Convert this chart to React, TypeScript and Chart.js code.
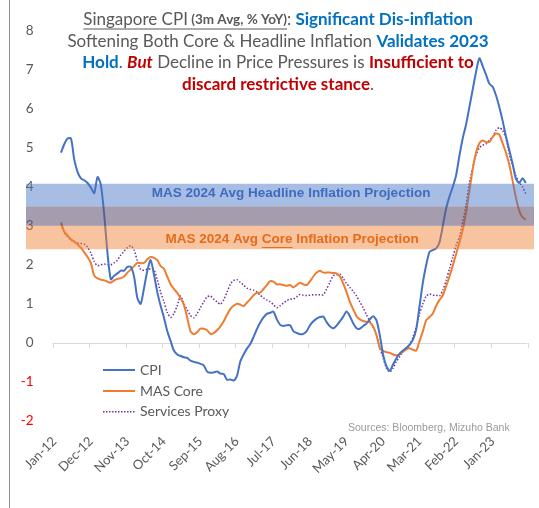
import React, { useEffect, useRef } from 'react';
import { Chart, registerables } from 'chart.js';

Chart.register(...registerables);

// ---- Data ----
const MONTHS = ['Jan', 'Feb', 'Mar', 'Apr', 'May', 'Jun', 'Jul', 'Aug', 'Sep', 'Oct', 'Nov', 'Dec'];
const categories: string[] = Array.from({ length: 143 }, (_, i) => `${MONTHS[i % 12]}-${12 + Math.floor(i / 12)}`);
const LABEL_EVERY = 11;

const cpi: (number | null)[] = [null, null,
  4.88, 5.1, 5.24, 5.24, 4.7, 4.38, 4.22, 4.17, 4.1, 3.98,
  3.84, 4.25, 4.05, 3.3, 2.3, 1.63, 1.72, 1.78, 1.85, 1.85,
  1.95, 1.95, 1.7, 1.15, 1.0, 1.4, 1.85, 2.12, 1.75, 1.3,
  0.95, 0.65, 0.3, 0.05, -0.2, -0.3, -0.34, -0.37, -0.39, -0.46,
  -0.49, -0.51, -0.54, -0.58, -0.74, -0.77, -0.76, -0.74, -0.79, -0.8,
  -0.95, -0.94, -0.97, -0.85, -0.48, -0.3, -0.15, -0.03, 0.15, 0.35,
  0.52, 0.65, 0.74, 0.77, 0.8, 0.6, 0.46, 0.43, 0.45, 0.45,
  0.3, 0.25, 0.22, 0.23, 0.3, 0.45, 0.55, 0.62, 0.66,
  0.67, 0.53, 0.42, 0.37, 0.44, 0.55, 0.67, 0.8, 0.68, 0.5,
  0.37, 0.36, 0.43, 0.49, 0.6, 0.68, 0.58, 0.2, -0.3, -0.6,
  -0.72, -0.56, -0.4, -0.28, -0.2, -0.13, -0.05, 0.08, 0.35, 0.95,
  1.55, 2.0, 2.33, 2.38, 2.42, 2.58, 3.0, 3.45, 3.75, 4.0,
  4.3, 4.8, 5.25, 5.6, 6.05, 6.5, 6.95, 7.3, 7.1, 6.88,
  6.65, 6.57, 6.35, 6.05, 5.7, 5.3, 4.95, 4.6, 4.21, 4.1, 4.22, 4.1,
];

const masCore: (number | null)[] = [null, null,
  3.09, 2.85, 2.75, 2.65, 2.6, 2.52, 2.44, 2.32, 2.2, 2.05,
  1.72, 1.65, 1.62, 1.6, 1.57, 1.54, 1.6, 1.64, 1.66, 1.7,
  1.8, 1.88, 1.96, 2.05, 2.04, 2.05, 2.14, 2.2, 2.18, 2.12,
  1.97, 1.9, 1.7, 1.5, 1.38, 1.28, 1.15, 0.98, 0.65, 0.3,
  0.22, 0.27, 0.36, 0.36, 0.32, 0.23, 0.25, 0.32, 0.42, 0.55,
  0.72, 0.87, 0.95, 1.0, 0.98, 0.94, 1.03, 1.12, 1.22, 1.28,
  1.29, 1.38, 1.48, 1.58, 1.57, 1.5, 1.5, 1.48, 1.46, 1.48,
  1.42, 1.48, 1.54, 1.5, 1.48, 1.58, 1.7, 1.8, 1.85,
  1.8, 1.8, 1.8, 1.79, 1.78, 1.7, 1.52, 1.3, 1.05, 0.86,
  0.68, 0.6, 0.56, 0.54, 0.52, 0.42, 0.2, -0.13, -0.21, -0.24,
  -0.26, -0.3, -0.32, -0.3, -0.23, -0.17, -0.14, -0.18, -0.2, 0.05,
  0.3, 0.58, 0.66, 0.75, 0.95, 1.1, 1.22, 1.45, 1.7, 1.98,
  2.28, 2.58, 2.9, 3.35, 3.9, 4.45, 4.88, 5.12, 5.19, 5.15,
  5.15, 5.28, 5.37, 5.34, 5.12, 4.88, 4.58, 4.16, 3.73, 3.39, 3.22, 3.16,
];

const servicesProxy: (number | null)[] = [null, null,
  3.05, 2.82, 2.72, 2.64, 2.58, 2.56, 2.55, 2.53, 2.45, 2.3,
  2.08, 1.98, 2.0, 2.02, 2.0, 2.0, 2.05, 2.12, 2.25, 2.35,
  2.44, 2.49, 2.38, 2.1, 1.88, 1.86, 1.89, 1.89, 1.88, 1.62,
  1.3, 1.05, 0.78, 0.65, 0.75, 0.95, 1.2, 1.0, 0.85, 0.7,
  0.64, 0.75, 0.9, 1.05, 1.18, 1.2, 1.12, 1.05, 0.99, 1.1,
  1.3, 1.5, 1.6, 1.62, 1.55, 1.48, 1.4, 1.37, 1.35, 1.3,
  1.22, 1.15, 1.1, 1.05, 0.98, 0.9, 0.95, 1.02, 1.08, 1.12,
  1.12, 1.18, 1.24, 1.22, 1.21, 1.22, 1.23, 1.23, 1.23,
  1.23, 1.38, 1.55, 1.72, 1.74, 1.76, 1.65, 1.52, 1.42, 1.32,
  1.2, 1.05, 0.9, 0.72, 0.55, 0.4, 0.2, -0.12, -0.38, -0.65,
  -0.75, -0.65, -0.48, -0.36, -0.22, -0.15, -0.06, 0.15, 0.4, 0.75,
  1.0, 1.2, 1.25, 1.22, 1.22, 1.2, 1.35, 1.6, 1.9, 2.2,
  2.5, 2.72, 3.1, 3.55, 4.1, 4.5, 4.82, 5.0, 5.07, 5.1,
  5.2, 5.28, 5.45, 5.52, 5.45, 5.25, 4.85, 4.55, 4.28, 4.12, 4.0, 3.82,
];

const headlineBand = [3.0, 4.08];
const coreBand = [2.4, 3.5];
const yTicks = { min: -2, max: 8, step: 1 };

const GRAY = '#595959';
const BLUE_T = '#0070c0';
const RED_T = '#c00000';
const CPI_C = '#4472c4';
const CORE_C = '#ed7d31';
const SERV_C = '#7030a0';

type Seg = { t: string; c: string; b?: boolean; i?: boolean; u?: boolean; s?: number };

const titleLines: Seg[][] = [
  [
    { t: 'Singapore CPI', c: GRAY, u: true },
    { t: ' (3m Avg, % YoY)', c: GRAY, b: true, u: true, s: 13.5 },
    { t: ':', c: GRAY },
    { t: ' Significant Dis-inflation', c: BLUE_T, b: true },
  ],
  [
    { t: 'Softening Both Core & Headline Inflation ', c: GRAY },
    { t: 'Validates 2023', c: BLUE_T, b: true },
  ],
  [
    { t: 'Hold', c: BLUE_T, b: true },
    { t: '. ', c: GRAY },
    { t: 'But', c: RED_T, b: true, i: true },
    { t: ' Decline in Price Pressures is ', c: GRAY },
    { t: 'Insufficient to', c: RED_T, b: true },
  ],
  [
    { t: 'discard restrictive stance', c: RED_T, b: true },
    { t: '.', c: GRAY },
  ],
];

function segFont(s: Seg, base: number, fam: string) {
  return `${s.i ? 'italic ' : ''}${s.b ? 'bold ' : ''}${s.s ?? base}px ${fam}`;
}

function drawRich(ctx: CanvasRenderingContext2D, segs: Seg[], cx: number, y: number, base: number, fam: string) {
  let total = 0;
  const widths = segs.map((s) => {
    ctx.font = segFont(s, base, fam);
    const w = ctx.measureText(s.t).width;
    total += w;
    return w;
  });
  let x = cx - total / 2;
  ctx.textBaseline = 'middle';
  ctx.textAlign = 'left';
  segs.forEach((s, k) => {
    ctx.font = segFont(s, base, fam);
    ctx.fillStyle = s.c;
    ctx.fillText(s.t, x, y);
    if (s.u) {
      ctx.fillRect(x, y + base * 0.5, widths[k], 1);
    }
    x += widths[k];
  });
}

const overlayPlugin = {
  id: 'overlay',
  beforeDatasetsDraw(chart: any) {
    const { ctx, chartArea, scales } = chart;
    const xs = scales.x;
    const y0 = scales.y.getPixelForValue(0);
    const cw = (chartArea.right - chartArea.left) / categories.length;
    ctx.save();
    ctx.strokeStyle = '#d9d9d9';
    ctx.lineWidth = 1;
    ctx.beginPath();
    ctx.moveTo(chartArea.left, Math.round(y0) + 0.5);
    ctx.lineTo(chartArea.right, Math.round(y0) + 0.5);
    for (let k = 0; k <= categories.length; k += LABEL_EVERY) {
      const px = k < categories.length ? xs.getPixelForValue(k) - cw / 2 : chartArea.right;
      ctx.moveTo(Math.round(px) + 0.5, Math.round(y0));
      ctx.lineTo(Math.round(px) + 0.5, Math.round(y0) + 5);
    }
    ctx.stroke();
    ctx.restore();
  },
  afterDraw(chart: any) {
    const { ctx, chartArea, scales } = chart;
    const ys = scales.y;
    const bx0 = chartArea.left - 26.7;
    const bx1 = chartArea.right + 6.5;
    const ovLo = Math.max(headlineBand[0], coreBand[0]);
    const ovHi = Math.min(headlineBand[1], coreBand[1]);
    ctx.save();
    const rect = (lo: number, hi: number, color: string) => {
      const yTop = ys.getPixelForValue(hi);
      const yBot = ys.getPixelForValue(lo);
      ctx.fillStyle = color;
      ctx.fillRect(bx0, yTop, bx1 - bx0, yBot - yTop);
    };
    rect(ovHi, headlineBand[1], 'rgba(68,114,196,0.47)');
    rect(ovLo, ovHi, 'rgba(100,86,116,0.58)');
    rect(coreBand[0], ovLo, 'rgba(240,128,52,0.47)');

    // band labels
    const cx = (chartArea.left + chartArea.right) / 2 + 1;
    ctx.font = 'bold 13.5px "Liberation Sans", Arial, sans-serif';
    ctx.textBaseline = 'middle';
    ctx.textAlign = 'center';
    ctx.fillStyle = '#3f6cc0';
    ctx.fillText('MAS 2024 Avg Headline Inflation Projection', cx, ys.getPixelForValue((ovHi + headlineBand[1]) / 2) - 1.5);

    const orangeY = ys.getPixelForValue((coreBand[0] + ovLo) / 2) + 2;
    const parts = ['MAS 2024 Avg ', 'Core', ' Inflation Projection'];
    const ws = parts.map((p) => ctx.measureText(p).width);
    let ox = cx + 1 - (ws[0] + ws[1] + ws[2]) / 2;
    ctx.textAlign = 'left';
    ctx.fillStyle = '#e46c1c';
    parts.forEach((p, k) => {
      ctx.fillText(p, ox, orangeY);
      if (k === 1) ctx.fillRect(ox, orangeY + 7.5, ws[k], 1);
      ox += ws[k];
    });

    // title
    const tY = [20, 41.7, 63, 85];
    titleLines.forEach((line, k) => drawRich(ctx, line, 278, tY[k], 17, 'Lato, sans-serif'));

    // legend
    const legend = [
      { label: 'CPI', color: CPI_C, dash: [] as number[], w: 2 },
      { label: 'MAS Core', color: CORE_C, dash: [] as number[], w: 2 },
      { label: 'Services Proxy', color: SERV_C, dash: [1.5, 1.5], w: 1.5 },
    ];
    const ly = [370, 391, 411.7];
    legend.forEach((l, k) => {
      ctx.beginPath();
      ctx.setLineDash(l.dash);
      ctx.strokeStyle = l.color;
      ctx.lineWidth = l.w;
      ctx.moveTo(103, ly[k]);
      ctx.lineTo(135, ly[k]);
      ctx.stroke();
      ctx.setLineDash([]);
      ctx.font = '14px Lato, sans-serif';
      ctx.fillStyle = GRAY;
      ctx.textAlign = 'left';
      ctx.textBaseline = 'middle';
      ctx.fillText(l.label, 140, ly[k]);
    });

    // source
    ctx.font = '10.5px "Liberation Sans", Arial, sans-serif';
    ctx.fillStyle = '#9a9a9a';
    ctx.fillText('Sources: Bloomberg, Mizuho Bank', 348, 428);

    // frame line
    ctx.strokeStyle = '#8c8c8c';
    ctx.lineWidth = 1;
    ctx.beginPath();
    ctx.moveTo(9.5, 0);
    ctx.lineTo(9.5, 508);
    ctx.stroke();
    ctx.restore();
  },
};

export default function App() {
  const ref = useRef<HTMLCanvasElement>(null);
  useEffect(() => {
    if (!ref.current) return;
    const chart = new Chart(ref.current, {
      type: 'line',
      data: {
        labels: categories,
        datasets: [
          { label: 'CPI', data: cpi, borderColor: CPI_C, borderWidth: 2, pointRadius: 0, tension: 0.25 },
          { label: 'MAS Core', data: masCore, borderColor: CORE_C, borderWidth: 2, pointRadius: 0, tension: 0.25 },
          { label: 'Services Proxy', data: servicesProxy, borderColor: SERV_C, borderWidth: 1.5, borderDash: [1.5, 1.8], pointRadius: 0, tension: 0.25 },
        ],
      },
      options: {
        animation: false,
        responsive: true,
        maintainAspectRatio: false,
        layout: { padding: { left: 0, right: 11.5, top: 31, bottom: 0 } },
        plugins: { legend: { display: false }, tooltip: { enabled: false } },
        scales: {
          x: {
            type: 'category',
            offset: true,
            grid: { display: false, drawTicks: false },
            border: { display: false },
            afterFit: (s: any) => { s.height = 87.3; s.paddingLeft = 0; s.paddingRight = 0; },
            ticks: {
              autoSkip: false,
              minRotation: 45,
              maxRotation: 45,
              padding: 13,
              color: GRAY,
              font: { family: 'Lato, sans-serif', size: 13 },
              callback: (_v: any, i: number) => (i % LABEL_EVERY === 0 ? categories[i] : ''),
            },
          },
          y: {
            min: yTicks.min,
            max: yTicks.max,
            grid: { display: false, drawTicks: false },
            border: { display: false },
            afterFit: (s: any) => { s.width = 52.7; s.paddingTop = 0; s.paddingBottom = 0; },
            ticks: {
              stepSize: yTicks.step,
              padding: 19,
              color: (c: any) => (c.tick && c.tick.value < 0 ? '#ff0000' : GRAY),
              font: { family: 'Lato, sans-serif', size: 13.5 },
            },
          },
        },
      },
      plugins: [overlayPlugin],
    } as any);
    return () => chart.destroy();
  }, []);
  return (
    <div style={{ position: 'absolute', left: 0, top: 0, width: 539, height: 508, background: '#fff' }}>
      <canvas ref={ref} />
    </div>
  );
}
